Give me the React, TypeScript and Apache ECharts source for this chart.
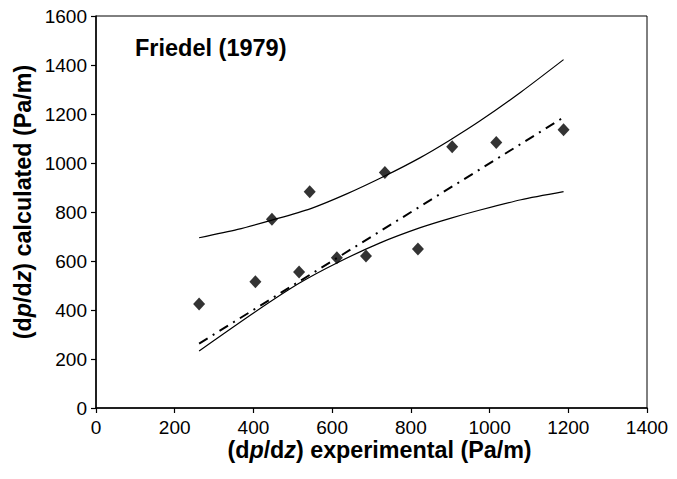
import React, { useEffect, useRef } from "react";
import * as echarts from "echarts";

const measuredPoints: [number, number][] = [
  [262, 424], [405, 515], [447, 770], [516, 555], [543, 883], [612, 613],
  [686, 620], [734, 961], [818, 649], [905, 1066], [1017, 1084], [1188, 1136],
];
const upperBound: [number, number][] = [
  [262, 695], [360, 729], [447, 767], [544, 813], [637, 874], [735, 948],
  [824, 1022], [900, 1094], [976, 1172], [1080, 1290], [1188, 1422],
];
const lowerBound: [number, number][] = [
  [262, 233], [405, 393], [516, 509], [612, 592], [722, 674], [824, 736],
  [900, 774], [976, 808], [1080, 850], [1188, 883],
];
const correlation: [number, number][] = [
  [262, 263], [1188, 1186],
];

const FONT = "Liberation Sans, Arial, Helvetica, sans-serif";

export default function App() {
  const ref = useRef<HTMLDivElement>(null);
  useEffect(() => {
    if (!ref.current) return;
    const chart = echarts.init(ref.current, undefined, { renderer: "svg" });
    const axisCommon = {
      axisLine: { show: true, lineStyle: { color: "#000", width: 1.5 } },
      axisTick: { show: true, inside: false, length: 5, lineStyle: { color: "#000", width: 1.2 } },
      splitLine: { show: false },
      axisLabel: { color: "#000", fontSize: 19, fontFamily: FONT, formatter: (v: number) => String(v) },
    };
    const rich = {
      b: { fontSize: 23.3, fontWeight: "bold", fontFamily: FONT, color: "#000" },
      bi: { fontSize: 23.3, fontWeight: "bold", fontStyle: "italic", fontFamily: FONT, color: "#000" },
    };
    chart.setOption({
      animation: false,
      backgroundColor: "#fff",
      grid: {
        left: 96, right: 30, top: 16, bottom: 71,
        show: true, borderColor: "#000", borderWidth: 1, backgroundColor: "transparent",
      },
      xAxis: {
        type: "value", min: 0, max: 1400, interval: 200,
        ...axisCommon,
        axisLabel: { ...axisCommon.axisLabel, margin: 10 },
        name: "{b|(d}{bi|p}{b|/d}{bi|z}{b|) experimental (Pa/m)}",
        nameLocation: "middle", nameGap: 30, nameMoveOverlap: false,
        nameTextStyle: { rich, padding: [0, 0, 0, 16] },
      },
      yAxis: {
        type: "value", min: 0, max: 1600, interval: 200,
        ...axisCommon,
        axisLabel: { ...axisCommon.axisLabel, margin: 9 },
        name: "{b|(d}{bi|p}{b|/d}{bi|z}{b|) calculated (Pa/m)}",
        nameLocation: "middle", nameGap: 62, nameMoveOverlap: false,
        nameTextStyle: { rich, padding: [0, 0, 0, 20] },
      },
      graphic: [
        {
          type: "text", left: 135, top: 36,
          style: { text: "Friedel (1979)", fontSize: 23.5, fontWeight: "bold", fontFamily: FONT, fill: "#000" },
        },
      ],
      series: [
        {
          type: "line", data: upperBound, smooth: 0.25, symbol: "none",
          lineStyle: { color: "#000", width: 1.2 },
        },
        {
          type: "line", data: lowerBound, smooth: 0.25, symbol: "none",
          lineStyle: { color: "#000", width: 1.2 },
        },
        {
          type: "line", data: correlation, symbol: "none",
          lineStyle: { color: "#000", width: 2, type: [10, 6, 2, 6] },
        },
        {
          type: "scatter", data: measuredPoints, symbol: "diamond", symbolSize: [12, 13],
          itemStyle: { color: "#000" },
        },
      ],
    });
    return () => chart.dispose();
  }, []);
  return (
    <div
      ref={ref}
      style={{ position: "fixed", left: 0, top: 0, width: 677, height: 479, background: "#fff" }}
    />
  );
}
